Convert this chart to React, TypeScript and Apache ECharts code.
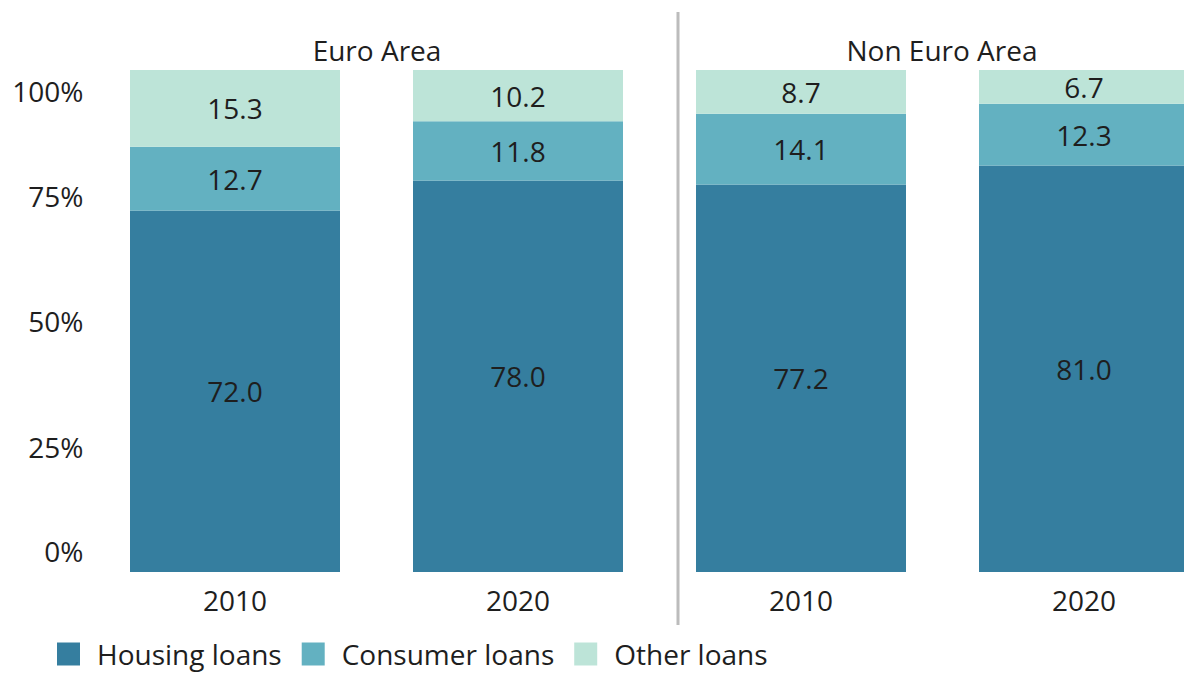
import React, { useEffect, useRef } from "react";
import * as echarts from "echarts";

const categories = ["2010", "2020", "2010", "2020"];
const groupTitles = ["Euro Area", "Non Euro Area"];
const housingLoans = [72.0, 78.0, 77.2, 81.0];
const consumerLoans = [12.7, 11.8, 14.1, 12.3];
const otherLoans = [15.3, 10.2, 8.7, 6.7];
const seriesNames = ["Housing loans", "Consumer loans", "Other loans"];
const colors = ["#357e9f", "#63b1c1", "#bde4d8"];

const FONT = "'Open Sans', 'Noto Sans', sans-serif";
const TEXT = "#1e1e1e";
const FS = 28;

export default function App() {
  const ref = useRef<HTMLDivElement>(null);
  useEffect(() => {
    if (!ref.current) return;
    const chart = echarts.init(ref.current, null, { renderer: "svg" });
    const mk = (name: string, data: number[], color: string) => ({
      name,
      type: "bar",
      stack: "total",
      data,
      barWidth: 210,
      itemStyle: { color },
      label: {
        show: true,
        position: "inside",
        color: TEXT,
        fontFamily: FONT,
        fontSize: FS,
        formatter: (p: any) => Number(p.value).toFixed(1),
      },
    });
    chart.setOption({
      animation: false,
      textStyle: { fontFamily: FONT },
      grid: {
        left: 93.5,
        width: 1132,
        top: 70,
        bottom: 101,
        containLabel: false,
        outerBoundsMode: "none",
      },
      xAxis: {
        type: "category",
        data: categories,
        axisLine: { show: false },
        axisTick: { show: false },
        axisLabel: { color: TEXT, fontFamily: FONT, fontSize: FS, margin: 14 },
      },
      yAxis: {
        type: "value",
        min: 0,
        max: 100,
        interval: 25,
        splitLine: { show: false },
        axisLine: { show: false },
        axisTick: { show: false },
        axisLabel: {
          margin: 10,
          formatter: (v: number) =>
            v === 0 ? "{lo|0%}" : v === 100 ? "{hi|100%}" : "{n|" + v + "%}",
          rich: {
            n: { color: TEXT, fontFamily: FONT, fontSize: FS, lineHeight: 30 },
            lo: { color: TEXT, fontFamily: FONT, fontSize: FS, lineHeight: 30, padding: [0, 0, 42, 0] },
            hi: { color: TEXT, fontFamily: FONT, fontSize: FS, lineHeight: 30, padding: [42, 0, 0, 0] },
          },
        },
      },
      legend: {
        left: 57,
        top: 640,
        padding: 0,
        itemWidth: 23,
        itemHeight: 23,
        itemGap: 20,
        icon: "rect",
        textStyle: { color: TEXT, fontFamily: FONT, fontSize: FS, lineHeight: 24, padding: [0, 0, 0, 12] },
        data: seriesNames,
      },
      graphic: [
        {
          type: "line",
          shape: { x1: 678, y1: 12, x2: 678, y2: 625 },
          style: { stroke: "#bcbcbc", lineWidth: 3 },
        },
        {
          type: "text",
          x: 377,
          y: 50,
          style: { text: groupTitles[0], fill: TEXT, font: FS + "px " + FONT, textAlign: "center", textVerticalAlign: "middle" },
        },
        {
          type: "text",
          x: 942,
          y: 50,
          style: { text: groupTitles[1], fill: TEXT, font: FS + "px " + FONT, textAlign: "center", textVerticalAlign: "middle" },
        },
      ],
      series: [
        mk(seriesNames[0], housingLoans, colors[0]),
        mk(seriesNames[1], consumerLoans, colors[1]),
        mk(seriesNames[2], otherLoans, colors[2]),
      ],
    });
    return () => chart.dispose();
  }, []);
  return <div ref={ref} style={{ width: 1184, height: 673, position: "absolute", left: 0, top: 0 }} />;
}
